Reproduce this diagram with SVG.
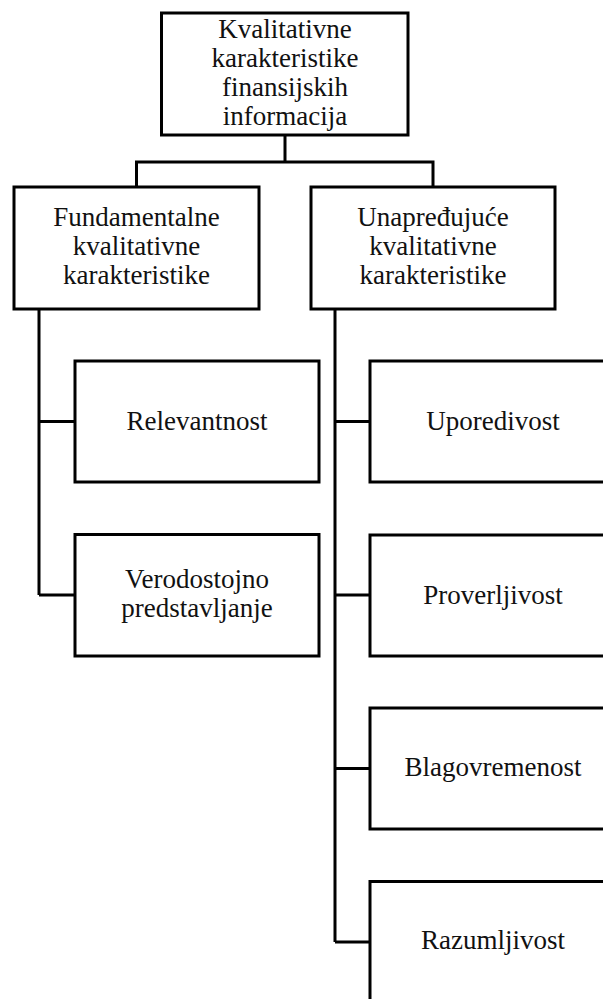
<svg xmlns="http://www.w3.org/2000/svg" width="603" height="999" viewBox="0 0 603 999">
<style>
.box{fill:#fff;stroke:#000;stroke-width:3}
.c{fill:none;stroke:#000;stroke-width:3}
text{font-family:"Times New Roman","Liberation Serif","Noto Serif","DejaVu Serif",Times,serif;font-size:27px;fill:#111;text-anchor:middle}
</style>
<rect width="603" height="999" fill="#fff"/>
<g id="connectors">
<path class="c" d="M285 135V162M136.5 187V162H433V187"/>
<path class="c" d="M39 309V595M39 421.5H75M39 595H75"/>
<path class="c" d="M335 309V942M335 421.5H370M335 595H370M335 768.5H370M335 942H370"/>
</g>
<g id="root">
<rect class="box" x="161.5" y="13" width="246.5" height="122"/>
<text x="285" y="38">Kvalitativne</text>
<text x="285" y="67">karakteristike</text>
<text x="285" y="96">finansijskih</text>
<text x="285" y="125">informacija</text>
</g>
<g id="fundamentalne">
<rect class="box" x="14" y="187" width="245" height="122"/>
<text x="136.5" y="226">Fundamentalne</text>
<text x="136.5" y="255">kvalitativne</text>
<text x="136.5" y="284">karakteristike</text>
</g>
<g id="unapredjujuce">
<rect class="box" x="311" y="187" width="244" height="122"/>
<text x="433" y="226">Unapređujuće</text>
<text x="433" y="255">kvalitativne</text>
<text x="433" y="284">karakteristike</text>
</g>
<g id="relevantnost">
<rect class="box" x="75" y="361" width="244" height="121"/>
<text x="197" y="430">Relevantnost</text>
</g>
<g id="verodostojno">
<rect class="box" x="75" y="534.5" width="244" height="121.5"/>
<text x="197" y="587.5">Verodostojno</text>
<text x="197" y="616.5">predstavljanje</text>
</g>
<g id="uporedivost">
<rect class="box" x="370" y="361" width="245" height="121"/>
<text x="493" y="430">Uporedivost</text>
</g>
<g id="proverljivost">
<rect class="box" x="370" y="535" width="245" height="121"/>
<text x="493" y="604">Proverljivost</text>
</g>
<g id="blagovremenost">
<rect class="box" x="370" y="708" width="245" height="121"/>
<text x="493" y="776">Blagovremenost</text>
</g>
<g id="razumljivost">
<rect class="box" x="370" y="881.5" width="245" height="121"/>
<text x="493" y="949">Razumljivost</text>
</g>
</svg>
